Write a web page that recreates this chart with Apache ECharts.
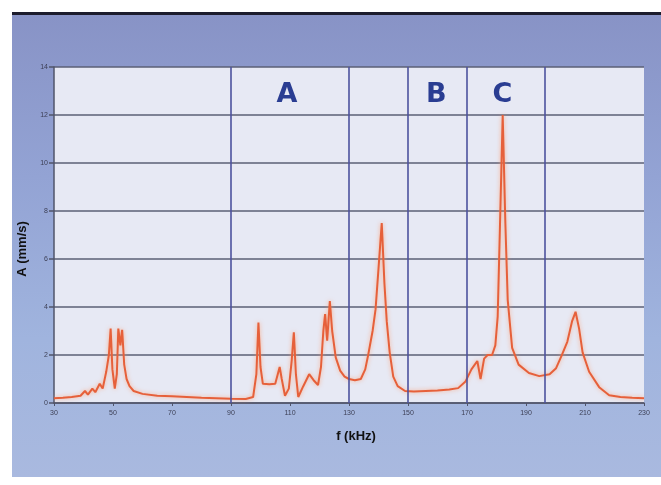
<!DOCTYPE html>
<html>
<head>
<meta charset="utf-8">
<script src="https://cdn.jsdelivr.net/npm/echarts@6/dist/echarts.min.js"></script>
<style>
html,body{margin:0;padding:0;background:#ffffff;}
#panel{position:absolute;left:12px;top:12px;width:649px;height:462px;border-top:3px solid #1c1c2c;
background:linear-gradient(180deg,#8893c6 0%,#93a3d4 35%,#a0b4de 70%,#a9b9df 100%);}
#chart{position:absolute;left:0;top:0;width:661px;height:485px;}
</style>
</head>
<body>
<div id="panel"></div>
<div id="chart"></div>
<script>
// Frequency (kHz)
var freq = [30,33,36,39,40.5,41.5,43,44,45.5,46.5,47.7,48.6,49.2,49.8,50.6,51.3,51.8,52.5,53.1,53.8,54.6,55.6,57,60,65,70,75,80,85,90,
95,97.5,98.6,99.3,100,100.8,103,105,106.5,107.2,108.3,109.6,110.6,111.3,112,112.8,114.5,116.5,118,119.5,120.5,121.3,121.9,122.6,123.5,124.3,125.5,127,128.5,130,
132,134,135.5,136.5,138,139,140,141.1,142,142.8,143.8,145,146.5,149,152,156,160,164,167,169.5,171.5,173.5,174.6,175.8,177,178.5,179.6,180.4,181.2,182.1,183,183.8,185.3,187.5,
191,194.5,198,200.2,202,204,205.6,206.8,208,209.2,211.4,214.8,218.2,222,226,230];
// Amplitude A (mm/s)
var amp = [0.2,0.22,0.25,0.3,0.5,0.35,0.6,0.45,0.8,0.6,1.3,2.0,3.1,1.4,0.6,1.2,3.1,2.4,3.05,1.6,1.0,0.7,0.5,0.38,0.3,0.28,0.25,0.22,0.2,0.18,
0.17,0.25,1.2,3.35,1.5,0.8,0.78,0.8,1.5,1.0,0.3,0.6,1.8,2.95,1.2,0.25,0.7,1.2,0.95,0.75,1.5,3.0,3.7,2.6,4.25,3.0,1.9,1.35,1.1,1.0,
0.95,1.0,1.4,2.0,3.0,3.9,5.6,7.5,5.0,3.4,2.1,1.1,0.7,0.5,0.48,0.5,0.52,0.56,0.62,0.9,1.4,1.75,1.0,1.85,2.0,2.0,2.4,3.6,7.5,12.0,7.5,4.3,2.3,1.6,
1.25,1.12,1.2,1.45,1.95,2.55,3.4,3.8,3.1,2.1,1.3,0.66,0.32,0.25,0.22,0.2];
// X tick labels
var xTicks = [30,50,70,90,110,130,150,170,190,210,230];
// Y tick labels
var yTicks = [0,2,4,6,8,10,12,14];
// Region boundaries (kHz)
var regionBounds = [90,130,150,170,196.5];
// Region letters and their centre frequencies
var regionLetters = ['A','B','C'];
var regionLetterFreq = [109,159.6,182];

var chart = echarts.init(document.getElementById('chart'), null, {renderer:'canvas'});
var pts = freq.map(function(f,i){return [f, amp[i]];});
var LETTER_Y = 12.85;

chart.setOption({
  backgroundColor:'transparent',
  animation:false,
  grid:{left:54,right:17,top:67,bottom:82,show:true,backgroundColor:'#e7e9f4',borderWidth:0},
  xAxis:{
    type:'value',min:30,max:230,interval:20,
    name:'f (kHz)',nameLocation:'middle',nameGap:27,
    nameTextStyle:{fontSize:13,fontWeight:'bold',color:'#111',fontFamily:'Liberation Sans',padding:[0,0,0,14]},
    axisLine:{show:true,lineStyle:{color:'#50546a',width:1.5}},
    axisTick:{show:true,length:3,lineStyle:{color:'#50546a'}},
    axisLabel:{fontSize:7,color:'#3c3f55',margin:7,
      formatter:function(v){return xTicks.indexOf(v)>=0?String(v):'';}},
    splitLine:{show:false}
  },
  yAxis:{
    type:'value',min:0,max:14,interval:2,
    name:'A (mm/s)',nameLocation:'middle',nameGap:18,
    nameTextStyle:{fontSize:13,fontWeight:'bold',color:'#111',fontFamily:'Liberation Sans',padding:[0,28,0,0]},
    axisLine:{show:true,lineStyle:{color:'#50546a',width:1.5}},
    axisTick:{show:true,length:5,lineStyle:{color:'#50546a',width:1.5}},
    axisLabel:{fontSize:7,color:'#3c3f55',margin:6,
      formatter:function(v){return yTicks.indexOf(v)>=0?String(v):'';}},
    splitLine:{show:true,lineStyle:{color:'#5b5f76',width:1.6}}
  },
  series:[{
    type:'line',data:pts,symbol:'none',smooth:false,
    lineStyle:{color:'#e6603a',width:2,shadowColor:'rgba(255,150,100,0.7)',shadowBlur:4},
    z:3,
    markLine:{
      silent:true,symbol:'none',label:{show:false},animation:false,
      lineStyle:{color:'#4d529e',width:1.6,type:'solid'},
      data:regionBounds.map(function(b){return {xAxis:b};})
    },
    markPoint:{
      silent:true,symbol:'circle',symbolSize:0,animation:false,
      label:{show:true,position:'inside',formatter:'{b}',color:'#2a3d92',fontSize:27,fontWeight:'bold',fontFamily:'DejaVu Sans'},
      data:regionLetters.map(function(l,i){return {name:l,coord:[regionLetterFreq[i],LETTER_Y]};})
    }
  }]
});
</script>
</body>
</html>
